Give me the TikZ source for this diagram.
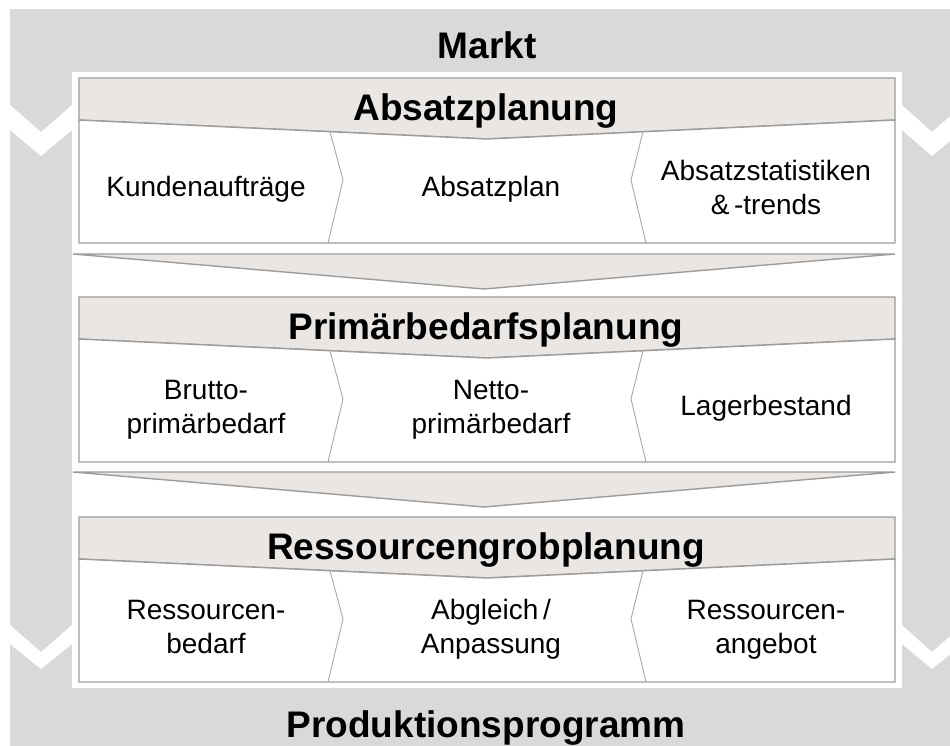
\documentclass[tikz,border=0pt]{standalone}
\usepackage{fontspec}
\setmainfont{Liberation Sans}
\definecolor{band}{HTML}{D9D9D9}
\definecolor{hdr}{HTML}{E9E6E3}
\definecolor{edge}{HTML}{9C9C9C}
\definecolor{sep}{HTML}{A8A8A8}
\tikzset{
  outline/.style={draw=edge, line width=1.4pt, line join=miter},
  sepline/.style={draw=sep, line width=0.9pt},
  titletext/.style={inner sep=0pt, anchor=base, font=\fontsize{37}{44}\selectfont\bfseries},
  celltext/.style={inner sep=0pt, anchor=base, align=center, font=\fontsize{28}{34}\selectfont},
}
% one planning stage: header bar, three cells, and the arrow beneath it
% #1 vertical offset, #2 name prefix, #3 title, #4/#5/#6 cell texts, #7/#8/#9 baseline offsets of the last line
\newcommand\planstage[9]{%
  \begin{scope}[yshift=-#1pt]
    \path[outline, fill=hdr] (79,0) -- (895,0) -- (895,42) -- (487,61) -- (79,42) -- cycle;
    \path[outline, fill=white] (79,42) -- (487,61) -- (895,42) -- (895,165) -- (79,165) -- cycle;
    \draw[sepline] (330,53.7) -- (343,102) -- (328,165);
    \draw[sepline] (643,53.7) -- (631,102) -- (646,165);
    \node[titletext] (#2-title) at (486,42) {#3};
    \node[celltext] (#2-left) at (206,#7) {#4};
    \node[celltext] (#2-mid) at (491,#8) {#5};
    \node[celltext] (#2-right) at (766,#9) {#6};
  \end{scope}}
\newcommand\stagearrow[1]{%
  \path[outline, fill=hdr, yshift=-#1pt] (73,0) -- (895,0) -- (484,35) -- cycle;}
\begin{document}
\begin{tikzpicture}[x=1pt, y=-1pt]
  \useasboundingbox (0,0) rectangle (950,745);
  \clip (0,0) rectangle (950,745);
  % surrounding market frame with its downward chevrons
  \fill[band] (10,9) rectangle (980,760);
  \fill[white] (10,105) -- (41,132) -- (72,105) -- (72,130) -- (41,156) -- (10,130) -- cycle;
  \fill[white] (902,105) -- (932,132) -- (963,105) -- (963,130) -- (932,156) -- (902,130) -- cycle;
  \fill[white] (10,625) -- (41,652) -- (72,625) -- (72,644) -- (41,669) -- (10,644) -- cycle;
  \fill[white] (902,625) -- (932,652) -- (963,625) -- (963,644) -- (932,669) -- (902,644) -- cycle;
  \fill[white] (72,72) rectangle (902,688);
  \node[titletext] (markt) at (487,58) {Markt};
  \node[titletext] (programm) at (486,737) {Produktionsprogramm};
  % planning stages
  \planstage{78}{absatz}{Absatzplanung}{Kundenaufträge}{Absatzplan}{Absatzstatistiken\\\&\,-trends}{118}{118}{136}
  \stagearrow{254}
  \planstage{297}{primaer}{Primärbedarfsplanung}{Brutto-\\primärbedarf}{Netto-\\primärbedarf}{Lagerbestand}{136}{136}{118}
  \stagearrow{472}
  \planstage{517}{ressourcen}{Ressourcengrobplanung}{Ressourcen-\\bedarf}{Abgleich\,/\\Anpassung}{Ressourcen-\\angebot}{136}{136}{136}
\end{tikzpicture}
\end{document}
